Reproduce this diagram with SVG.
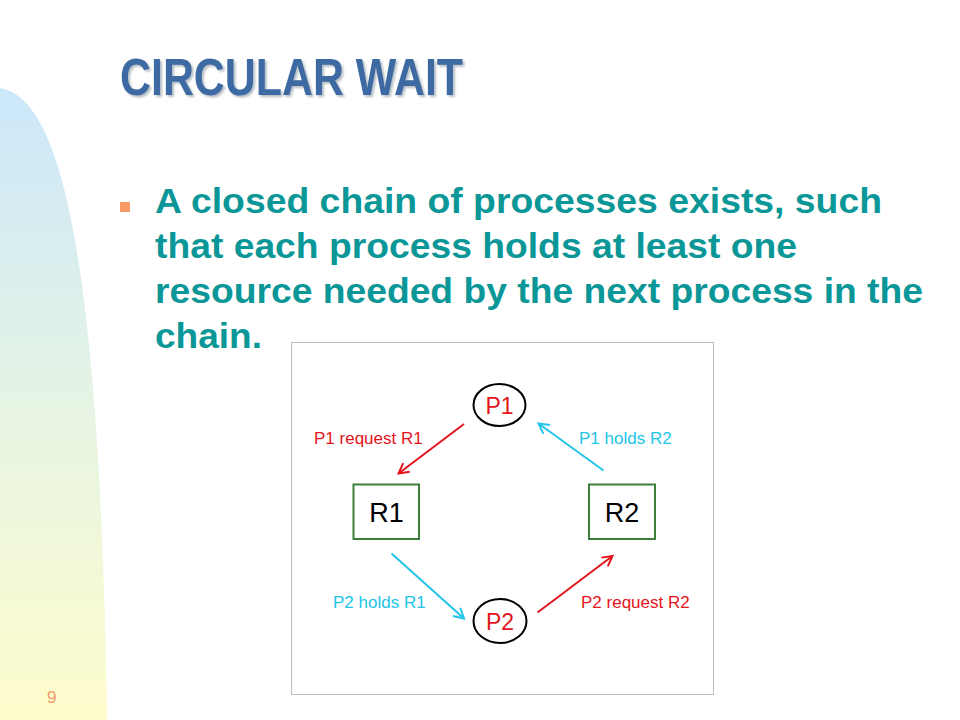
<svg xmlns="http://www.w3.org/2000/svg" width="960" height="720" viewBox="0 0 960 720">
  <style>
    .title { font-family: "Liberation Sans", Arial, sans-serif; font-weight: bold; font-size: 52px; }
    .body { font-family: "Liberation Sans", Arial, sans-serif; font-weight: bold; font-size: 35px; fill: #0b9797; }
    .lbl { font-family: "Liberation Sans", Arial, sans-serif; font-size: 17px; }
    .red { fill: #e3141c; }
    .cyan { fill: #22c4e8; }
    .node-text { font-family: "Liberation Sans", Arial, sans-serif; text-anchor: middle; }
    .proc { fill: #ffffff; stroke: #000000; stroke-width: 2; }
    .res { fill: #ffffff; stroke: #3d7f3a; stroke-width: 2; }
    .edge { fill: none; stroke-width: 2; }
  </style>
  <defs>
    <linearGradient id="side" x1="0" y1="0" x2="0" y2="1">
      <stop offset="0" stop-color="#cbe7fa"/>
      <stop offset="0.5" stop-color="#e6f4e4"/>
      <stop offset="1" stop-color="#fefccc"/>
    </linearGradient>
    <filter id="shadow" x="-5%" y="-20%" width="115%" height="150%">
      <feDropShadow dx="2" dy="2" stdDeviation="1.2" flood-color="#7a8896" flood-opacity="0.55"/>
    </filter>
    <marker id="arrRed" markerUnits="userSpaceOnUse" markerWidth="14" markerHeight="14" refX="11" refY="6" orient="auto">
      <path d="M1,0.5 L11,6 L1,11.5" fill="none" stroke="#e3141c" stroke-width="2"/>
    </marker>
    <marker id="arrCyan" markerUnits="userSpaceOnUse" markerWidth="14" markerHeight="14" refX="11" refY="6" orient="auto">
      <path d="M1,0.5 L11,6 L1,11.5" fill="none" stroke="#22c4e8" stroke-width="2"/>
    </marker>
  </defs>

  <rect x="0" y="0" width="960" height="720" fill="#ffffff"/>
  <path d="M0,88 C60,98 100,250 107,720 L0,720 Z" fill="url(#side)"/>

  <g id="title">
    <text class="title" x="120" y="95" fill="#3d6aa2" filter="url(#shadow)" textLength="343" lengthAdjust="spacingAndGlyphs">CIRCULAR WAIT</text>
  </g>

  <g id="bullet">
    <rect x="120" y="202" width="10" height="10" fill="#f79867"/>
    <text class="body" x="155" y="213" textLength="727" lengthAdjust="spacingAndGlyphs">A closed chain of processes exists, such</text>
    <text class="body" x="155" y="258" textLength="642" lengthAdjust="spacingAndGlyphs">that each process holds at least one</text>
    <text class="body" x="155" y="303" textLength="768" lengthAdjust="spacingAndGlyphs">resource needed by the next process in the</text>
    <text class="body" x="155" y="348" textLength="107" lengthAdjust="spacingAndGlyphs">chain.</text>
  </g>

  <g id="frame">
    <rect x="291.5" y="342.5" width="422" height="352" fill="#ffffff" stroke="#bdbdbd" stroke-width="1"/>
  </g>

  <g id="connectors">
    <line class="edge" x1="464" y1="424" x2="398.5" y2="473.5" stroke="#e3141c" marker-end="url(#arrRed)"/>
    <line class="edge" x1="603.5" y1="470.5" x2="538.5" y2="423.5" stroke="#22c4e8" marker-end="url(#arrCyan)"/>
    <line class="edge" x1="391.5" y1="553.5" x2="464" y2="618.5" stroke="#22c4e8" marker-end="url(#arrCyan)"/>
    <line class="edge" x1="537.5" y1="612.5" x2="612.5" y2="556" stroke="#e3141c" marker-end="url(#arrRed)"/>
    <text class="lbl red" x="314" y="444">P1 request R1</text>
    <text class="lbl cyan" x="579" y="444">P1 holds R2</text>
    <text class="lbl cyan" x="333" y="608">P2 holds R1</text>
    <text class="lbl red" x="581" y="608">P2 request R2</text>
  </g>

  <g id="P1">
    <ellipse class="proc" cx="499.5" cy="405" rx="26" ry="21"/>
    <text class="node-text red" x="499.5" y="414" font-size="23">P1</text>
  </g>
  <g id="P2">
    <ellipse class="proc" cx="500" cy="621" rx="26.5" ry="22"/>
    <text class="node-text red" x="500" y="630" font-size="23">P2</text>
  </g>
  <g id="R1">
    <rect class="res" x="353.5" y="484.5" width="65.5" height="54.5"/>
    <text class="node-text" x="386.5" y="521.5" font-size="27" fill="#000000">R1</text>
  </g>
  <g id="R2">
    <rect class="res" x="589" y="484.5" width="66" height="54.5"/>
    <text class="node-text" x="622" y="521.5" font-size="27" fill="#000000">R2</text>
  </g>

  <g id="page">
    <text x="47" y="703" font-family="Liberation Sans, Arial, sans-serif" font-size="17" fill="#f09a6a">9</text>
  </g>
</svg>
